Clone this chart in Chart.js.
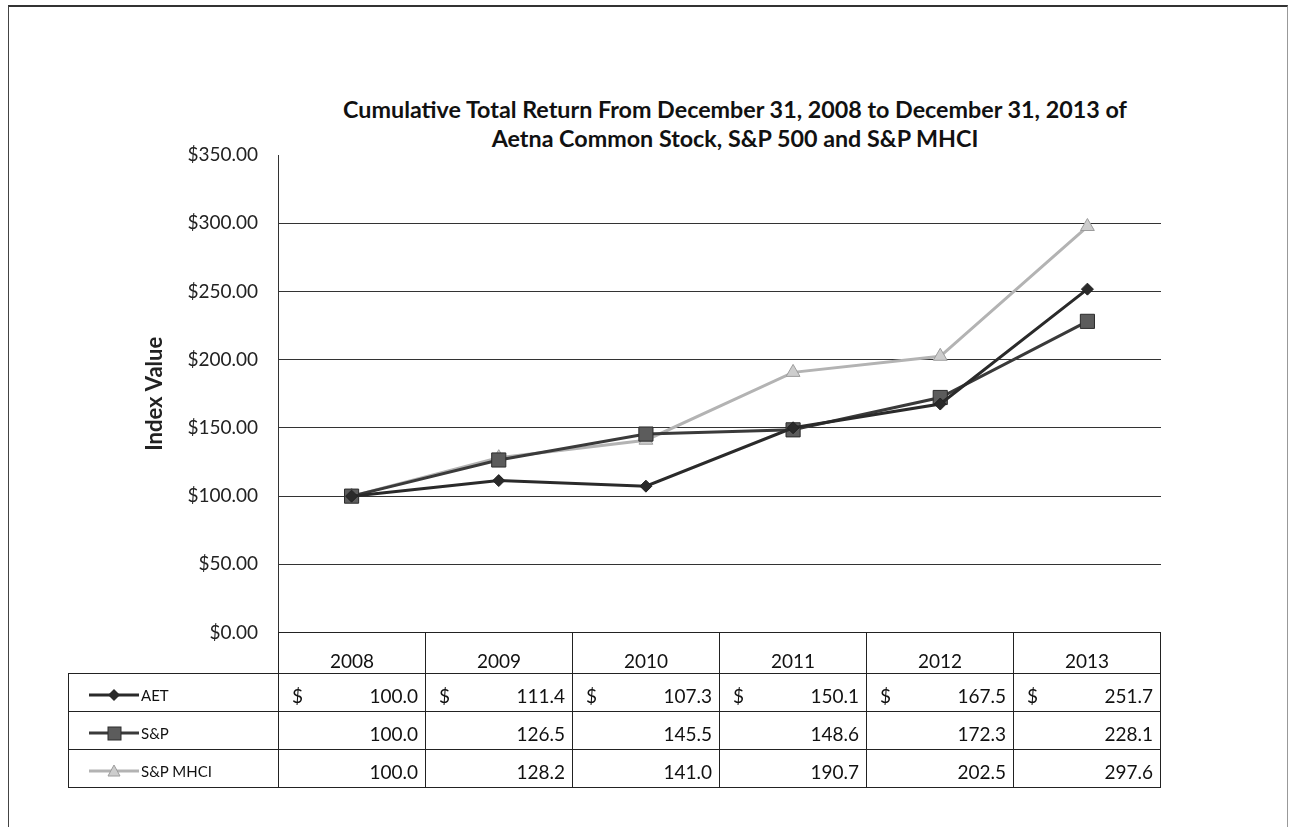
<!DOCTYPE html>
<html>
<head>
<meta charset="utf-8">
<script src="https://cdn.jsdelivr.net/npm/chart.js@4.4.1/dist/chart.umd.min.js"></script>
<style>
  body { margin: 0; background: #fff; font-family: Lato, sans-serif; color: #111; }
  #frame { position: absolute; left: 8px; top: 5px; width: 1278px; height: 900px;
           border-top: 2px solid #333; border-left: 1px solid #444; border-right: 1px solid #999; }
  #title { position: absolute; left: 0; width: 1470px; top: 95px; text-align: center;
           font-weight: bold; font-size: 23.3px; line-height: 29px; color: #111; }
  #wrap { position: absolute; left: 0; top: 0; width: 1289px; height: 664px; }
  #tbl { position: absolute; left: 68px; top: 632px; width: 1093px; border-collapse: collapse;
         table-layout: fixed; font-size: 19px; color: #111; }
  #tbl td { border: 1px solid #222; padding: 0; }
  #tbl td.blank { border: none; }
  #tbl tr.hdr td { height: 41px; text-align: center; padding-top: 14px; box-sizing: border-box; }
  #tbl tr.row td { height: 38px; padding-top: 5px; box-sizing: border-box; }
  #tbl td.name { padding-left: 20px; white-space: nowrap; font-size: 15px; }
  #tbl td.name svg { vertical-align: -2px; margin-right: 2px; }
  .cell { display: flex; justify-content: space-between; padding: 0 7px 0 13px; }
</style>
</head>
<body>
<div id="frame"></div>
<div id="title">Cumulative Total Return From December 31, 2008 to December 31, 2013 of<br>Aetna Common Stock, S&amp;P 500 and S&amp;P MHCI</div>
<div id="wrap"><canvas id="myChart"></canvas></div>
<table id="tbl"></table>
<script>
const years = ['2008', '2009', '2010', '2011', '2012', '2013'];
const seriesNames = ['AET', 'S&P', 'S&P MHCI'];
const aetValues = [100.0, 111.4, 107.3, 150.1, 167.5, 251.7];
const spValues = [100.0, 126.5, 145.5, 148.6, 172.3, 228.1];
const mhciValues = [100.0, 128.2, 141.0, 190.7, 202.5, 297.6];
const yTicks = [0, 50, 100, 150, 200, 250, 300, 350];

const lineColors = ['#2a2a2a', '#3a3a3a', '#b3b3b3'];
const pointFills = ['#2a2a2a', '#5c5c5c', '#cdcdcd'];
const pointBorders = ['#222', '#2c2c2c', '#9c9c9c'];
const pointStyles = ['rectRot', 'rect', 'triangle'];
const pointSizes = [6, 10, 8];
const allValues = [aetValues, spValues, mhciValues];

const ctx = document.getElementById('myChart').getContext('2d');
const myChart = new Chart(ctx, {
  type: 'line',
  data: {
    labels: years,
    datasets: seriesNames.map((name, i) => ({
      label: name,
      data: allValues[i],
      borderColor: lineColors[i],
      borderWidth: 3,
      backgroundColor: pointFills[i],
      pointBackgroundColor: pointFills[i],
      pointBorderColor: pointBorders[i],
      pointBorderWidth: 1,
      pointStyle: pointStyles[i],
      pointRadius: pointSizes[i],
      tension: 0,
      fill: false
    }))
  },
  options: {
    responsive: true,
    maintainAspectRatio: false,
    animation: false,
    layout: { padding: { top: 155, bottom: 8, left: 0, right: 128 } },
    plugins: { legend: { display: false }, title: { display: false }, tooltip: { enabled: false } },
    scales: {
      x: { type: 'category', display: false, offset: true },
      y: {
        min: 0,
        max: 350,
        afterBuildTicks: (scale) => { scale.ticks = yTicks.map(v => ({ value: v })); },
        afterFit: (scale) => { scale.width = 278; },
        ticks: {
          padding: 20,
          color: '#222',
          font: { family: 'Lato', size: 19 },
          callback: (v) => '$' + Number(v).toFixed(2)
        },
        grid: {
          drawTicks: false,
          color: (c) => (c.tick && c.tick.value === 350) ? 'rgba(0,0,0,0)' : '#333',
          lineWidth: 1
        },
        border: { display: true, color: '#333', width: 1 },
        title: {
          display: true,
          text: 'Index Value',
          color: '#222',
          font: { family: 'Lato', size: 22, weight: 'bold' },
          padding: { top: 142, bottom: 0 }
        }
      }
    }
  }
});

// data table under the plot
function keySvg(i) {
  let marker = '';
  if (pointStyles[i] === 'rectRot') {
    marker = '<polygon points="25,2 31,8 25,14 19,8" fill="' + pointFills[i] + '"/>';
  } else if (pointStyles[i] === 'rect') {
    marker = '<rect x="19" y="2" width="13" height="13" fill="' + pointFills[i] + '" stroke="' + pointBorders[i] + '"/>';
  } else {
    marker = '<polygon points="25,2 31,13 19,13" fill="' + pointFills[i] + '" stroke="' + pointBorders[i] + '"/>';
  }
  return '<svg width="50" height="16"><line x1="0" y1="8" x2="50" y2="8" stroke="' + lineColors[i] +
    '" stroke-width="3"/>' + marker + '</svg>';
}

const tbl = document.getElementById('tbl');
let html = '<colgroup><col style="width:210px">' + years.map(() => '<col>').join('') + '</colgroup>';
html += '<tr class="hdr"><td class="blank"></td>' + years.map(y => '<td>' + y + '</td>').join('') + '</tr>';
seriesNames.forEach((name, i) => {
  html += '<tr class="row"><td class="name">' + keySvg(i) + name.replace('&', '&amp;') + '</td>';
  allValues[i].forEach(v => {
    html += '<td><div class="cell"><span>' + (i === 0 ? '$' : '') + '</span><span>' + v.toFixed(1) + '</span></div></td>';
  });
  html += '</tr>';
});
tbl.innerHTML = html;
</script>
</body>
</html>
